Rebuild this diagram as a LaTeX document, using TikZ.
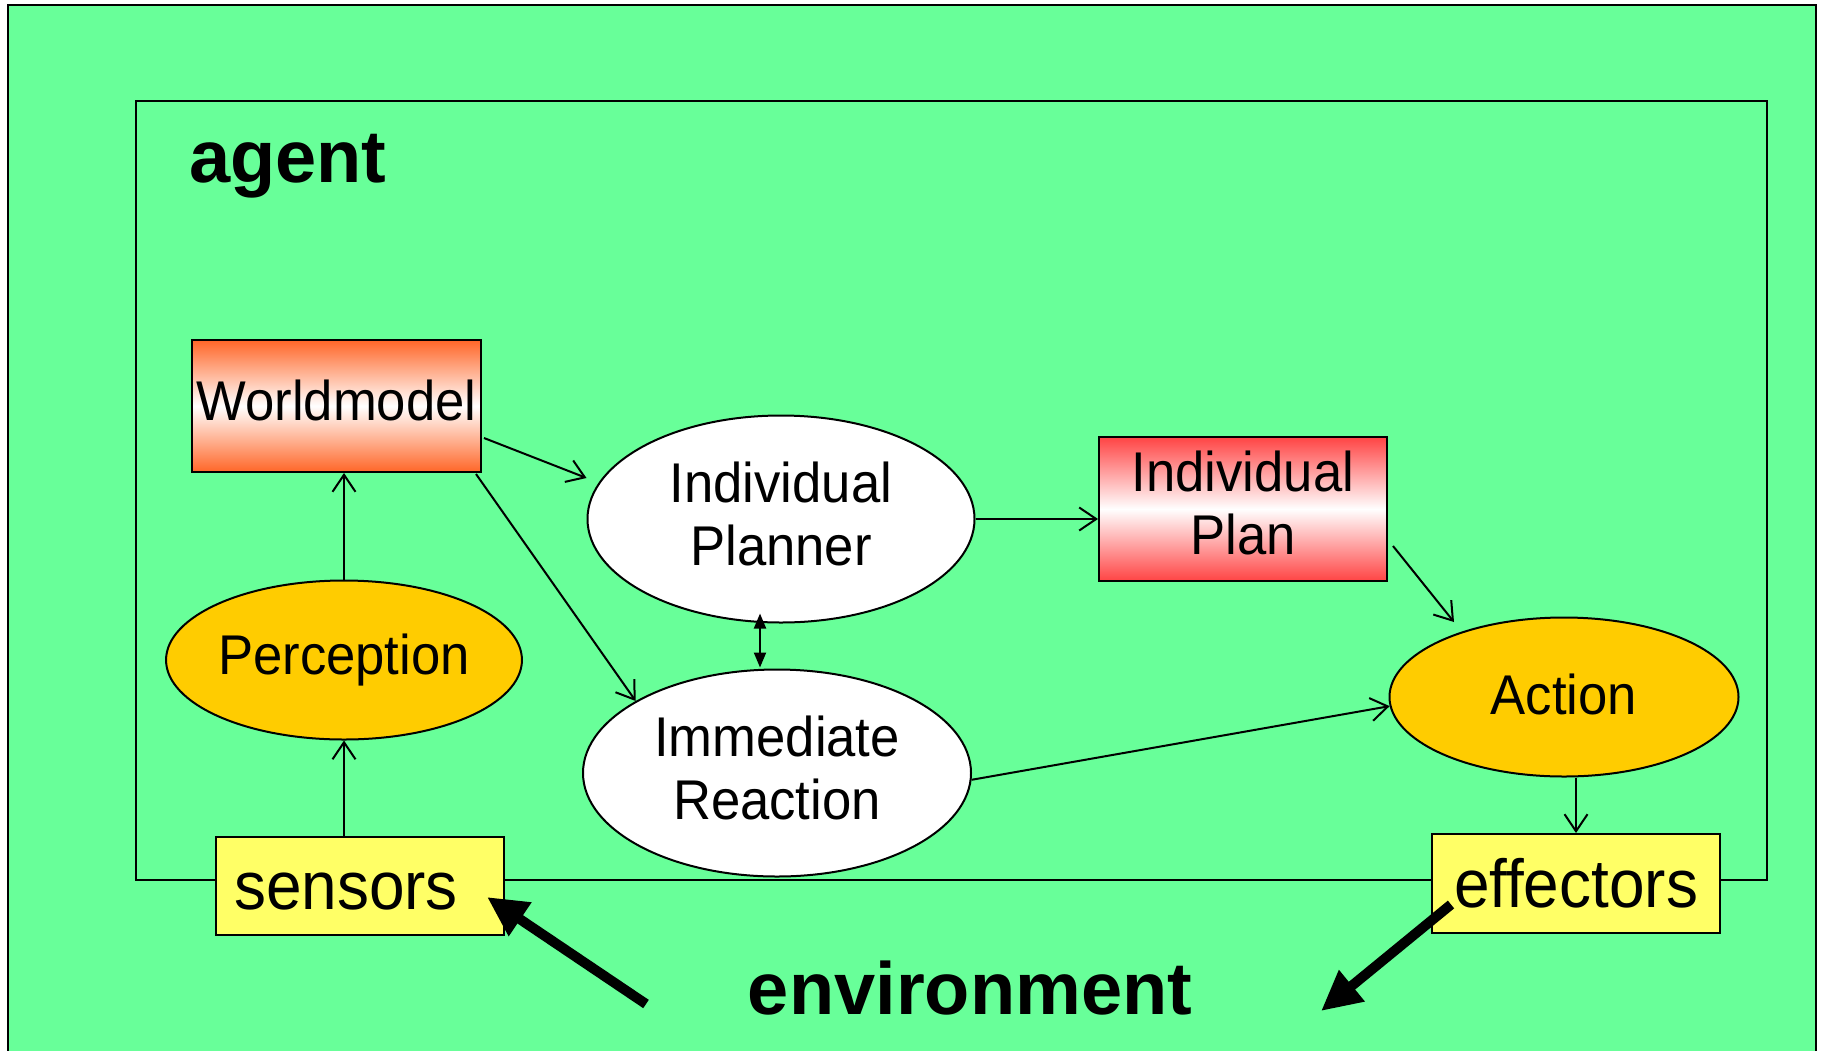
\documentclass[tikz,border=0pt]{standalone}
\usepackage{fontspec}
\setmainfont{Liberation Sans}
\newfontfamily\condfont[FakeStretch=0.94]{Liberation Sans}
\usetikzlibrary{shapes.geometric,arrows.meta,calc}
\definecolor{bggreen}{RGB}{104,255,153}
\definecolor{ellorange}{RGB}{255,204,0}
\definecolor{boxyellow}{RGB}{255,255,102}
\definecolor{wmorange}{RGB}{255,102,40}
\definecolor{ipred}{RGB}{255,68,68}
\newcommand{\liftby}[2]{\raisebox{#1}[\height][\depth]{#2}}
\newcommand{\twolines}[2]{\begin{tabular}{@{}c@{}}#1\\#2\end{tabular}}
\begin{document}
\begin{tikzpicture}[x=1pt,y=-1pt,
  txt/.style={font=\condfont\fontsize{56}{63}\selectfont, align=center, text=black},
  gradbox/.style={txt, rectangle, draw=black, line width=2pt, inner sep=0pt},
  ellnode/.style={txt, ellipse, draw=black, line width=2pt, inner sep=0pt},
  iobox/.style={rectangle, draw=black, line width=2pt, fill=boxyellow, inner sep=0pt,
     minimum width=288, font=\condfont\fontsize{68}{72}\selectfont},
  biglabel/.style={font=\bfseries\fontsize{74}{80}\selectfont, inner sep=0pt},
  conn/.style={line width=2pt, -{Straight Barb[length=17pt,width=23pt]}},
  bothconn/.style={line width=2pt, {Triangle[length=15pt,width=12pt]}-{Triangle[length=15pt,width=12pt]}},
  thickconn/.style={line width=10pt, -{Triangle[length=40pt,width=38pt]}}
]
\useasboundingbox (0,0) rectangle (1822,1050);
\clip (0,0) rectangle (1822,1050);
% outer frame
\fill[bggreen] (8,5) rectangle (1816,1070);
\draw[line width=2.5pt] (8,1070) -- (8,5) -- (1816,5) -- (1816,1070);
% agent frame
\draw[line width=2pt] (136,101) rectangle (1767,880);
\node[biglabel, anchor=base west] (agentlbl) at (189,182) {agent};

% nodes
\node[gradbox, top color=wmorange, bottom color=wmorange, middle color=white,
      minimum width=289, minimum height=132] (wm) at (336.5,406) {\liftby{6pt}{Worldmodel}};
\node[gradbox, top color=ipred, bottom color=ipred, middle color=white,
      minimum width=288, minimum height=144] (ip) at (1243,509) {\liftby{-1pt}{\twolines{Individual}{Plan}}};
\node[ellnode, fill=white, minimum width=387, minimum height=207] (pl) at (781,519) {\liftby{-2pt}{\twolines{Individual}{Planner}}};
\node[ellnode, fill=white, minimum width=388, minimum height=207] (ir) at (777,773) {\liftby{-2pt}{\twolines{Immediate}{Reaction}}};
\node[ellnode, fill=ellorange, minimum width=348, minimum height=159] (perc) at (344,660) {Perception};
\node[ellnode, fill=ellorange, minimum width=349, minimum height=159] (ac) at (1564,697) {\liftby{3pt}{Action}};
\node[iobox, minimum height=98] (sens) at (360,886) {\hspace*{-28pt}\liftby{-6pt}{sensors}};
\node[iobox, minimum height=99] (eff) at (1576,883.5) {effectors};
\node[biglabel, anchor=base] (env) at (970,1014) {environment};

% connectors
\draw[conn] (perc.north) -- (perc.north |- wm.south);
\draw[conn] (perc.south |- sens.north) -- (perc.south);
\draw[conn] ($(wm.east)+(2,32)$) -- ($(pl.west)+(0,-41)$);
\draw[conn] ($(wm.south east)+(-6,1)$) -- (ir.153);
\draw[conn] (pl.east) -- (pl.east -| ip.west);
\draw[conn] ($(ip.east)+(5,37)$) -- ($(ac.center)+(-110,-75)$);
\draw[conn] (ir.-2) -- (ac.183);
\draw[bothconn] ($(pl.south)+(-21,-10)$) -- ($(ir.north)+(-17,-1)$);
\draw[conn] ($(ac.south)+(12,0)$) -- ($(eff.north)+(0,0)$);

% environment arrows
\coordinate (envL) at (646,1004);
\coordinate (envR) at (1321,1011);
\draw[thickconn] (envL) -- ($(sens.east)+(-18,11)$);
\draw[thickconn] ($(eff.west)+(20,21)$) -- (envR);
\end{tikzpicture}
\end{document}
